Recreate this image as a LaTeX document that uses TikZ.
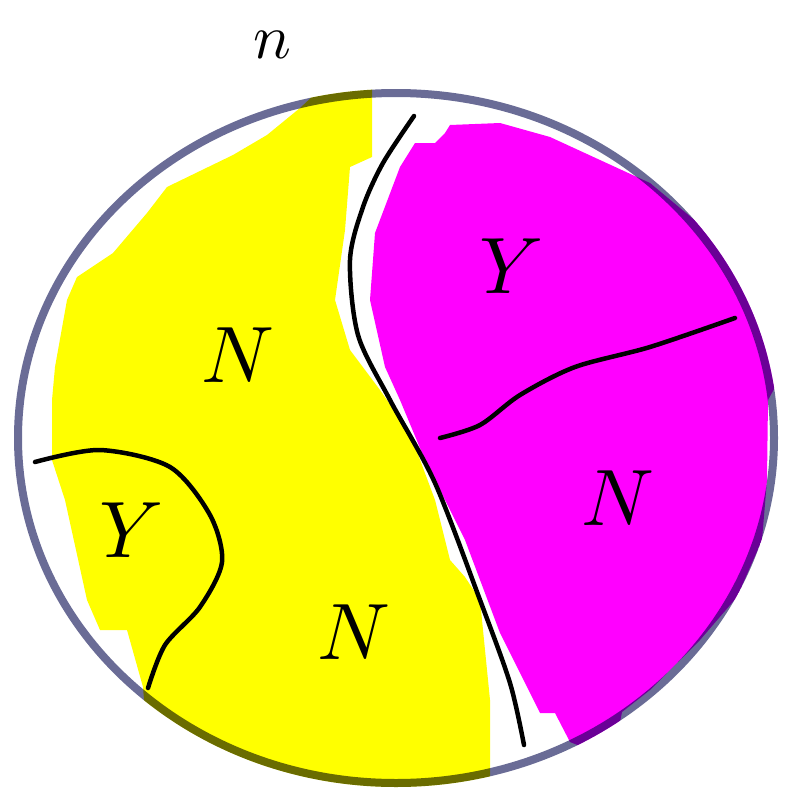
\documentclass[tikz,border=0pt]{standalone}
\usepackage{amsmath}
\usetikzlibrary{calc, positioning}

\definecolor{rimgray}{RGB}{106,108,150}
\definecolor{paintyellow}{RGB}{255,255,0}
\definecolor{paintmagenta}{RGB}{255,0,255}

\begin{document}
\begin{tikzpicture}[x=1pt, y=-1pt,
    rim/.style={draw=rimgray, line width=8pt},
    cut/.style={draw=black, line width=4.5pt, line cap=round},
    lbl/.style={scale=8, inner sep=0pt},
    toplbl/.style={scale=6.3, inner sep=0pt}
  ]
  \useasboundingbox (0,0) rectangle (784,792);

  % outer set
  \draw[rim] (396,438) ellipse [x radius=378pt, y radius=345pt];

  % painted parts, laid over the rim
  \begin{scope}
    \clip (396,438) ellipse [x radius=382pt, y radius=349pt];
    \begin{scope}[blend mode=multiply]
      \fill[paintyellow] (372,80) -- (372,157) -- (350,167) -- (345,230)
        -- (335,300) -- (350,350) -- (380,390) -- (410,433) -- (435,500)
        -- (450,560) -- (465,577) -- (480,600) -- (490,700) -- (490,800)
        -- (152,800) -- (143,687) -- (127,630) -- (100,630) -- (87,600)
        -- (65,500) -- (52,460) -- (52,400) -- (55,367) -- (67,300)
        -- (77,277) -- (113,253) -- (147,213) -- (167,187) -- (233,155)
        -- (267,135) -- (300,108) -- (330,80) -- cycle;
      \fill[paintmagenta] (450,125) -- (500,123) -- (550,137) -- (650,183)
        -- (710,233) -- (760,265) -- (790,300) -- (790,360) -- (768,400)
        -- (767,480) -- (762,540) -- (737,597) -- (700,640) -- (680,660)
        -- (650,690) -- (622,712) -- (615,748) -- (585,748) -- (570,742)
        -- (555,713) -- (540,713) -- (500,633) -- (465,540) -- (425,460)
        -- (400,400) -- (385,367) -- (370,300) -- (375,233) -- (400,167)
        -- (415,143) -- (435,143) -- (445,133) -- cycle;
    \end{scope}
  \end{scope}

  % splits
  \draw[cut] plot[smooth] coordinates {(414,116) (383,163) (363,207)
    (350,260) (358,335) (390,400) (435,483) (480,600) (510,683) (524,745)};
  \draw[cut] plot[smooth] coordinates {(735,318) (650,347) (575,367)
    (520,395) (480,425) (440,438)};
  \draw[cut] plot[smooth] coordinates {(35,462) (100,450) (170,467)
    (210,515) (222,562) (200,607) (165,645) (148,688)};

  % labels
  \node[toplbl] (setn) at (272,45) {$n$};
  \node[lbl] (yTop)    at (512,266) {$Y$};
  \node[lbl] (nLeft)   at (238,355) {$N$};
  \node[lbl] (yLeft)   at (132,530) {$Y$};
  \node[lbl] (nRight)  at (618,498) {$N$};
  \node[lbl] (nBottom) at (354,632) {$N$};
\end{tikzpicture}
\end{document}
